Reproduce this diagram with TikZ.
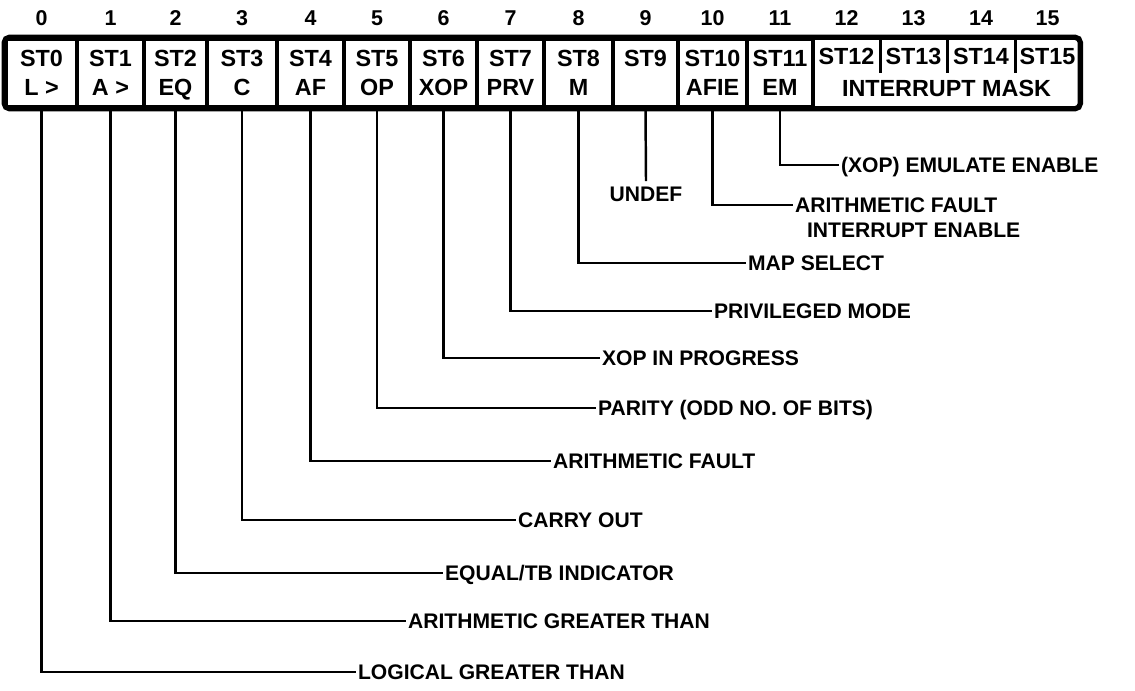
\documentclass[tikz,border=0pt]{standalone}
\usepackage{fontspec}
\setmainfont{Liberation Sans}
\usepackage{tikz}
\usetikzlibrary{positioning}
\newlength\px
\setlength\px{0.02cm}
\tikzset{
  cell/.style={rectangle, draw=black, line width=2pt, minimum height=68\px,
    inner sep=0pt, text depth=0pt, align=center,
    font=\fontsize{13.3}{16.5}\selectfont\bfseries},
  halfcell/.style={rectangle, inner sep=0pt, text depth=0pt, minimum height=34\px,
    font=\fontsize{13.3}{16.5}\selectfont\bfseries},
  bitno/.style={inner sep=1pt, font=\fontsize{12.2}{14}\selectfont\bfseries},
  lbl/.style={anchor=west, inner sep=1pt, text depth=0pt,
    font=\fontsize{12}{14}\selectfont\bfseries},
  lead/.style={line width=1.4pt},
  divider/.style={line width=2pt},
  frame/.style={line width=3pt, rounded corners=3pt}
}

\begin{document}
\begin{tikzpicture}[x=0.02cm, y=-0.02cm]
  \useasboundingbox (0,0) rectangle (1135,690);

  % --- bit numbers ---
  \node[bitno] (b0) at (41.5,18) {0};
  \node[bitno] (b1) at (110.5,18) {1};
  \node[bitno] (b2) at (175.5,18) {2};
  \node[bitno] (b3) at (242,18) {3};
  \node[bitno] (b4) at (310.5,18) {4};
  \node[bitno] (b5) at (377,18) {5};
  \node[bitno] (b6) at (443.5,18) {6};
  \node[bitno] (b7) at (510.5,18) {7};
  \node[bitno] (b8) at (578.5,18) {8};
  \node[bitno] (b9) at (645.5,18) {9};
  \node[bitno] (b10) at (712.5,18) {10};
  \node[bitno] (b11) at (780,18) {11};
  \node[bitno] (b12) at (846.5,18) {12};
  \node[bitno] (b13) at (913.5,18) {13};
  \node[bitno] (b14) at (981,18) {14};
  \node[bitno] (b15) at (1047.5,18) {15};

  % --- status register cells ---
  \node[cell, minimum width=71\px] (st0) at (41.5,73) {ST0\\L >};
  \node[cell, minimum width=67\px] (st1) at (110.5,73) {ST1\\A >};
  \node[cell, minimum width=63\px] (st2) at (175.5,73) {ST2\\EQ};
  \node[cell, minimum width=70\px] (st3) at (242,73) {ST3\\C};
  \node[cell, minimum width=67\px] (st4) at (310.5,73) {ST4\\AF};
  \node[cell, minimum width=66\px] (st5) at (377,73) {ST5\\OP};
  \node[cell, minimum width=67\px] (st6) at (443.5,73) {ST6\\XOP};
  \node[cell, minimum width=67\px] (st7) at (510.5,73) {ST7\\PRV};
  \node[cell, minimum width=69\px] (st8) at (578.5,73) {ST8\\M};
  \node[cell, minimum width=65\px] (st9) at (645.5,73) {ST9\\~};
  \node[cell, minimum width=69\px] (st10) at (712.5,73) {ST10\\AFIE};
  \node[cell, minimum width=66\px] (st11) at (780,73) {ST11\\EM};

  % interrupt mask: four half cells over one field
  \node[halfcell, minimum width=67\px] (st12) at (846.5,56) {ST12};
  \node[halfcell, minimum width=67\px] (st13) at (913.5,56) {ST13};
  \node[halfcell, minimum width=68\px] (st14) at (981,56) {ST14};
  \node[halfcell, minimum width=65\px] (st15) at (1047.5,56) {ST15};
  \node[halfcell, minimum width=267\px] (mask) at (946.5,88) {INTERRUPT MASK};
  \draw[divider] (st12.north east) -- (st12.south east);
  \draw[divider] (st13.north east) -- (st13.south east);
  \draw[divider] (st14.north east) -- (st14.south east);

  \draw[frame] (st0.north west) rectangle (st11.south -| st15.east);

  % --- bit descriptions ---
  \node[lbl] (emul) at (839,165) {(XOP) EMULATE ENABLE};
  \node[lbl, anchor=center, inner sep=3pt] (undef) at (646,194) {UNDEF};
  \node[lbl] (afie) at (793,205) {ARITHMETIC FAULT};
  \node[lbl] (afieb) at (805,230) {INTERRUPT ENABLE};
  \node[lbl] (map) at (746,263) {MAP SELECT};
  \node[lbl] (prv) at (712,311) {PRIVILEGED MODE};
  \node[lbl] (xop) at (600,358) {XOP IN PROGRESS};
  \node[lbl] (par) at (596,408) {PARITY (ODD NO. OF BITS)};
  \node[lbl] (af) at (551,461) {ARITHMETIC FAULT};
  \node[lbl] (cy) at (516,520) {CARRY OUT};
  \node[lbl] (eq) at (443,573) {EQUAL/TB INDICATOR};
  \node[lbl] (agt) at (406,621) {ARITHMETIC GREATER THAN};
  \node[lbl] (lgt) at (356,672) {LOGICAL GREATER THAN};

  % --- leaders ---
  \draw[lead] (st11.south) |- (emul.west);
  \draw[lead] (st9.south) -- (undef.north);
  \draw[lead] (st10.south) |- (afie.west);
  \draw[lead] (st8.south) |- (map.west);
  \draw[lead] (st7.south) |- (prv.west);
  \draw[lead] (st6.south) |- (xop.west);
  \draw[lead] (st5.south) |- (par.west);
  \draw[lead] (st4.south) |- (af.west);
  \draw[lead] (st3.south) |- (cy.west);
  \draw[lead] (st2.south) |- (eq.west);
  \draw[lead] (st1.south) |- (agt.west);
  \draw[lead] (st0.south) |- (lgt.west);
\end{tikzpicture}
\end{document}
